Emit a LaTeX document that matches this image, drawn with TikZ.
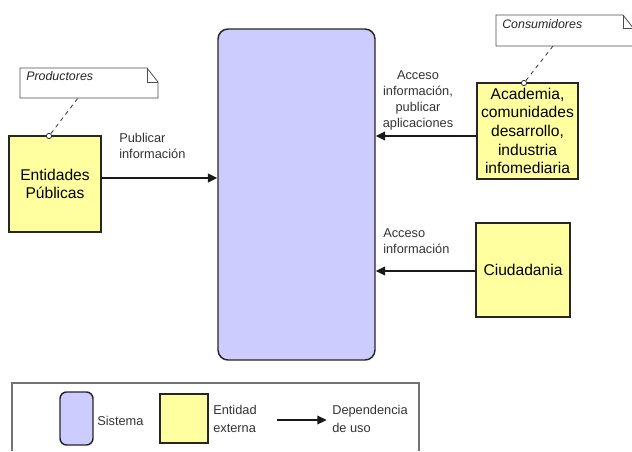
\documentclass[tikz,border=0pt]{standalone}
\usepackage{fontspec}
\setmainfont{Liberation Sans}
\usetikzlibrary{arrows.meta}
\definecolor{sysblue}{RGB}{204,204,255}
\definecolor{extyellow}{RGB}{255,255,160}
\begin{document}
\begin{tikzpicture}[
    x=0.75pt,
    y=-0.75pt,
    system/.style={
        draw=black!85,
        line width=1.1pt,
        rounded corners=7.5pt,
        fill=sysblue
    },
    entity/.style={
        draw=black!85,
        line width=1.1pt,
        fill=extyellow,
        align=center,
        inner sep=0pt,
        font=\fontsize{11.7}{14}\selectfont
    },
    flowlabel/.style={
        inner sep=0pt,
        text=black!80,
        font=\fontsize{9.6}{12}\selectfont
    },
    uses/.style={
        -{Triangle[length=7pt,width=6.5pt]},
        line width=1.1pt,
        draw=black!90
    },
    note/.style={
        draw=black!70,
        line width=0.6pt
    },
    notetext/.style={
        anchor=west,
        inner sep=0pt,
        text=black!85,
        font=\fontsize{9.3}{11}\selectfont\itshape
    },
    pin/.style={
        circle,
        draw=black!80,
        fill=white,
        inner sep=0pt,
        minimum size=4pt,
        line width=0.6pt
    },
    link/.style={
        dashed,
        draw=black!80,
        line width=0.6pt
    }
]
\useasboundingbox (0,0) rectangle (632,451);

% system
\node[system, minimum width=117.75pt, minimum height=248.25pt] (sys) at (296.5,194.5) {};

% external entities
\node[entity, minimum width=69pt, minimum height=72pt] (ent) at (55,184) {Entidades\\Públicas};
\node[entity, minimum width=75.75pt, minimum height=72pt] (acad) at (527.5,131)
    {Academia,\\comunidades\\desarrollo,\\industria\\infomediaria};
\node[entity, minimum width=70.5pt, minimum height=70.5pt] (ciud) at (523,270) {Ciudadania};

% notes
\draw[note, fill=white] (20,68) -- (147,68) -- (158,82) -- (158,98) -- (20,98) -- cycle;
\draw[note] (147,68) -- (147,82) -- (158,82);
\node[notetext] (prod) at (26,76) {Productores};
\coordinate (prodfoot) at (78,98);
\node[pin] (prodpin) at (49,136) {};
\draw[link] (prodpin) -- (prodfoot);

\draw[note] (632,26.5) -- (623,15) -- (496,15) -- (496,46) -- (632,46);
\draw[note] (623,15) -- (623,28) -- (632,28);
\node[notetext] (cons) at (502,24) {Consumidores};
\coordinate (consfoot) at (553,46);
\node[pin] (conspin) at (524,83) {};
\draw[link] (conspin) -- (consfoot);

% usage dependencies
\draw[uses] ([yshift=4.5pt]ent.east) -- ([yshift=4.5pt]ent.east -| sys.west);
\draw[uses] ([yshift=-3.75pt]acad.west) -- ([yshift=-3.75pt]acad.west -| sys.east);
\draw[uses] ([yshift=-0.75pt]ciud.west) -- ([yshift=-0.75pt]ciud.west -| sys.east);

\node[flowlabel, anchor=west, align=left] (pubinfo) at (119,145.5) {Publicar\\información};
\node[flowlabel, align=center] (accpub) at (418,100.5) {Acceso\\información,\\publicar\\aplicaciones};
\node[flowlabel, anchor=west, align=left] (accinfo) at (383,241.5) {Acceso\\información};

% legend
\draw[draw=black!55, line width=1.1pt] (12,451) |- (419,383) -- (419,451);
\node[system, rounded corners=5pt, minimum width=24.75pt, minimum height=39.75pt] (legsys) at (76.5,418.5) {};
\node[flowlabel, anchor=west] (legsystxt) at (97,421) {Sistema};
\node[entity, minimum width=36pt, minimum height=36.75pt] (legent) at (184,418.5) {};
\node[flowlabel, anchor=west, align=left, font=\fontsize{9.6}{13.5}\selectfont] (legenttxt) at (213,419) {Entidad\\externa};
\coordinate (legstart) at (277,420);
\node[flowlabel, anchor=west, align=left, font=\fontsize{9.6}{13.5}\selectfont] (legdep) at (332,419) {Dependencia\\de uso};
\draw[uses] (legstart) -- ([xshift=-4pt]legdep.west |- legstart);

\end{tikzpicture}
\end{document}
